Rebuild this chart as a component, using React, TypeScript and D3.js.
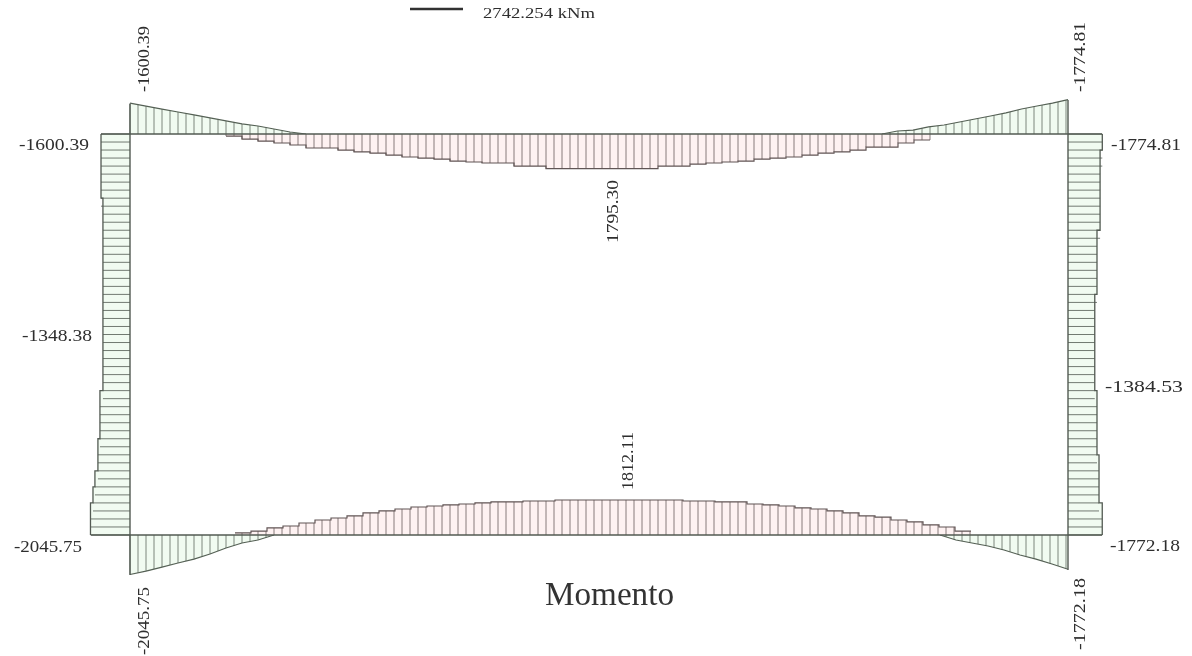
import React from "react";
import * as d3 from "d3";

// Bending moment values (kNm), read per station along each member
const topLeftHogging = [-1600, -1440, -1290, -1140, -985, -830, -675, -520, -415, -260, -105, 0];
const topSagging = [105, 260, 365, 465, 570, 725, 725, 830, 930, 985, 1090, 1190, 1245, 1295, 1400, 1450, 1500, 1500, 1660, 1660, 1795, 1795, 1795, 1795, 1795, 1795, 1795, 1660, 1660, 1555, 1500, 1450, 1400, 1295, 1245, 1190, 1090, 985, 930, 830, 675, 675, 465, 310];
const topRightHogging = [0, -155, -205, -365, -465, -620, -775, -930, -1090, -1295, -1450, -1600, -1775];
const bottomLeftHogging = [-2045, -1865, -1660, -1450, -1245, -985, -675, -415, -260, 0];
const bottomSagging = [105, 205, 365, 465, 620, 775, 880, 985, 1140, 1245, 1345, 1450, 1500, 1555, 1605, 1660, 1710, 1710, 1760, 1760, 1812, 1812, 1812, 1812, 1812, 1812, 1812, 1812, 1760, 1760, 1710, 1710, 1605, 1555, 1500, 1400, 1345, 1245, 1140, 985, 930, 775, 675, 520, 415, 205];
const bottomRightHogging = [0, -260, -415, -570, -775, -1035, -1245, -1500, -1772];
const leftColumn = [-1500, -1500, -1500, -1500, -1500, -1400, -1400, -1400, -1400, -1400, -1400, -1400, -1400, -1400, -1400, -1400, -1400, -1555, -1555, -1555, -1660, -1660, -1815, -1915, -2045];
const rightColumn = [-1775, -1775, -1660, -1660, -1660, -1660, -1660, -1500, -1500, -1500, -1500, -1385, -1385, -1385, -1385, -1385, -1385, -1500, -1500, -1500, -1500, -1605, -1605, -1605, -1772];

const legendValue = 2742.254;
const legendLabel = "2742.254 kNm";
const title = "Momento";

const hLabels = [
  { t: "-1600.39", x: 19, y: 150, w: 70 },
  { t: "-1774.81", x: 1111, y: 150, w: 70 },
  { t: "-1348.38", x: 22, y: 341, w: 70 },
  { t: "-1384.53", x: 1105, y: 392, w: 78 },
  { t: "-2045.75", x: 14, y: 552, w: 68 },
  { t: "-1772.18", x: 1110, y: 551, w: 70 },
];
const vLabels = [
  { t: "-1600.39", x: 149, y: 92, w: 66 },
  { t: "-1774.81", x: 1085, y: 92, w: 70 },
  { t: "1795.30", x: 618, y: 243, w: 63 },
  { t: "1812.11", x: 633, y: 490, w: 58 },
  { t: "-2045.75", x: 149, y: 655, w: 68 },
  { t: "-1772.18", x: 1085, y: 650, w: 72 },
];

const xL = 130, xR = 1068, yT = 134, yB = 535;
const GREEN = "#f1fbf1", RED = "#fef2f2", LINE = "#525a52";
const size = d3.scaleLinear().domain([0, legendValue]).range([0, 53]);

type H = { vals: number[]; start: number; step: number; base: number; dir: number; fill: string; stroke: string; stepped: boolean };
const hRegions: H[] = [
  { vals: topLeftHogging, start: xL, step: 16, base: yT, dir: 1, fill: GREEN, stroke: "#556155", stepped: false },
  { vals: topRightHogging, start: 882, step: 15.5, base: yT, dir: 1, fill: GREEN, stroke: "#556155", stepped: false },
  { vals: bottomLeftHogging, start: xL, step: 16, base: yB, dir: -1, fill: GREEN, stroke: "#556155", stepped: false },
  { vals: bottomRightHogging, start: 940, step: 16, base: yB, dir: -1, fill: GREEN, stroke: "#556155", stepped: false },
  { vals: topSagging, start: 226, step: 16, base: yT, dir: 1, fill: RED, stroke: "#615555", stepped: true },
  { vals: bottomSagging, start: 235, step: 16, base: yB, dir: -1, fill: RED, stroke: "#615555", stepped: true },
];

function HRegion({ r }: { r: H }) {
  const n = r.stepped ? r.vals.length : r.vals.length - 1;
  const x = d3.scaleLinear().domain([0, n]).range([r.start, r.start + n * r.step]);
  const series = r.stepped ? [...r.vals, r.vals[n - 1]] : r.vals;
  const pts = series.map((v, i) => ({ i, v }));
  const yOf = (v: number) => r.base + r.dir * (v < 0 ? -size(-v) : size(v));
  const curve = r.stepped ? d3.curveStepAfter : d3.curveLinear;
  const area = d3.area<any>().x((d) => x(d.i)).y0(r.base).y1((d) => yOf(d.v)).curve(curve);
  const line = d3.line<any>().x((d) => x(d.i)).y((d) => yOf(d.v)).curve(curve);
  const hatch = d3.range(Math.ceil((r.start - xL) / 8) * 8 + xL, r.start + n * r.step + 0.1, 8);
  const valueAt = (hx: number) => {
    const t = x.invert(hx);
    if (r.stepped) return r.vals[Math.min(n - 1, Math.floor(t))];
    const k = Math.min(n - 1, Math.floor(t));
    return d3.interpolateNumber(r.vals[k], r.vals[k + 1])(t - k);
  };
  return (
    <g>
      <path d={area(pts) || ""} fill={r.fill} />
      {hatch.map((hx) => (
        <line key={hx} x1={hx} x2={hx} y1={r.base} y2={yOf(valueAt(hx))} stroke={r.stroke} strokeWidth={1} opacity={0.75} />
      ))}
      <path d={line(pts) || ""} fill="none" stroke={r.stroke} strokeWidth={1.2} />
    </g>
  );
}

function Column({ vals, base, dir }: { vals: number[]; base: number; dir: number }) {
  const n = vals.length;
  const y = d3.scaleLinear().domain([0, n]).range([yT, yB]);
  const pts = [...vals, vals[n - 1]].map((v, i) => ({ i, v }));
  const xOf = (v: number) => base + dir * size(-v);
  const area = d3.area<any>().y((d) => y(d.i)).x0(base).x1((d) => xOf(d.v)).curve(d3.curveStepAfter);
  const line = d3.line<any>().y((d) => y(d.i)).x((d) => xOf(d.v)).curve(d3.curveStepAfter);
  const hatch = d3.range(yT, yB + 0.1, 8.02);
  return (
    <g>
      <path d={area(pts) || ""} fill={GREEN} />
      {hatch.map((hy) => {
        const k = Math.min(n - 1, Math.floor(y.invert(hy)));
        return <line key={hy} y1={hy} y2={hy} x1={base} x2={xOf(vals[k])} stroke={LINE} strokeWidth={1} opacity={0.8} />;
      })}
      <path d={line(pts) || ""} fill="none" stroke={LINE} strokeWidth={1.3} />
    </g>
  );
}

export default function App() {
  const font = "'Liberation Serif', serif";
  return (
    <svg width={1192} height={656} style={{ position: "absolute", left: 0, top: 0, background: "#fff" }}>
      <defs>
        <filter id="soft" x="-5%" y="-5%" width="110%" height="110%">
          <feGaussianBlur stdDeviation={0.6} />
        </filter>
        <filter id="softText" x="-5%" y="-5%" width="110%" height="110%">
          <feGaussianBlur stdDeviation={0.7} />
        </filter>
      </defs>
      <g filter="url(#soft)">
        <line x1={410} x2={410 + size(legendValue)} y1={9} y2={9} stroke="#333" strokeWidth={2.4} />
        {hRegions.map((r, i) => <HRegion key={i} r={r} />)}
        <Column vals={leftColumn} base={xL} dir={-1} />
        <Column vals={rightColumn} base={xR} dir={1} />
        <g stroke={LINE} strokeWidth={1.4}>
          <line x1={xL - 29} x2={xR + 34} y1={yT} y2={yT} />
          <line x1={xL - 39} x2={xR + 34} y1={yB} y2={yB} />
          <line x1={xL} x2={xL} y1={yT - 30} y2={yB + 40} />
          <line x1={xR} x2={xR} y1={yT - 34} y2={yB + 35} />
        </g>
      </g>
      <g fontFamily={font} fill="#2e2e2e" fontSize={17} filter="url(#softText)">
        <text x={483} y={18} fontSize={15} textLength={112} lengthAdjust="spacingAndGlyphs">{legendLabel}</text>
        {hLabels.map((l) => (
          <text key={l.t + l.x} x={l.x} y={l.y} textLength={l.w} lengthAdjust="spacingAndGlyphs">{l.t}</text>
        ))}
        {vLabels.map((l) => (
          <text key={l.t + l.x} transform={`translate(${l.x},${l.y}) rotate(-90)`} textLength={l.w} lengthAdjust="spacingAndGlyphs">{l.t}</text>
        ))}
      </g>
      <text x={545} y={605} fontFamily={font} fontSize={33} fill="#333" textLength={129} lengthAdjust="spacingAndGlyphs">{title}</text>
    </svg>
  );
}
